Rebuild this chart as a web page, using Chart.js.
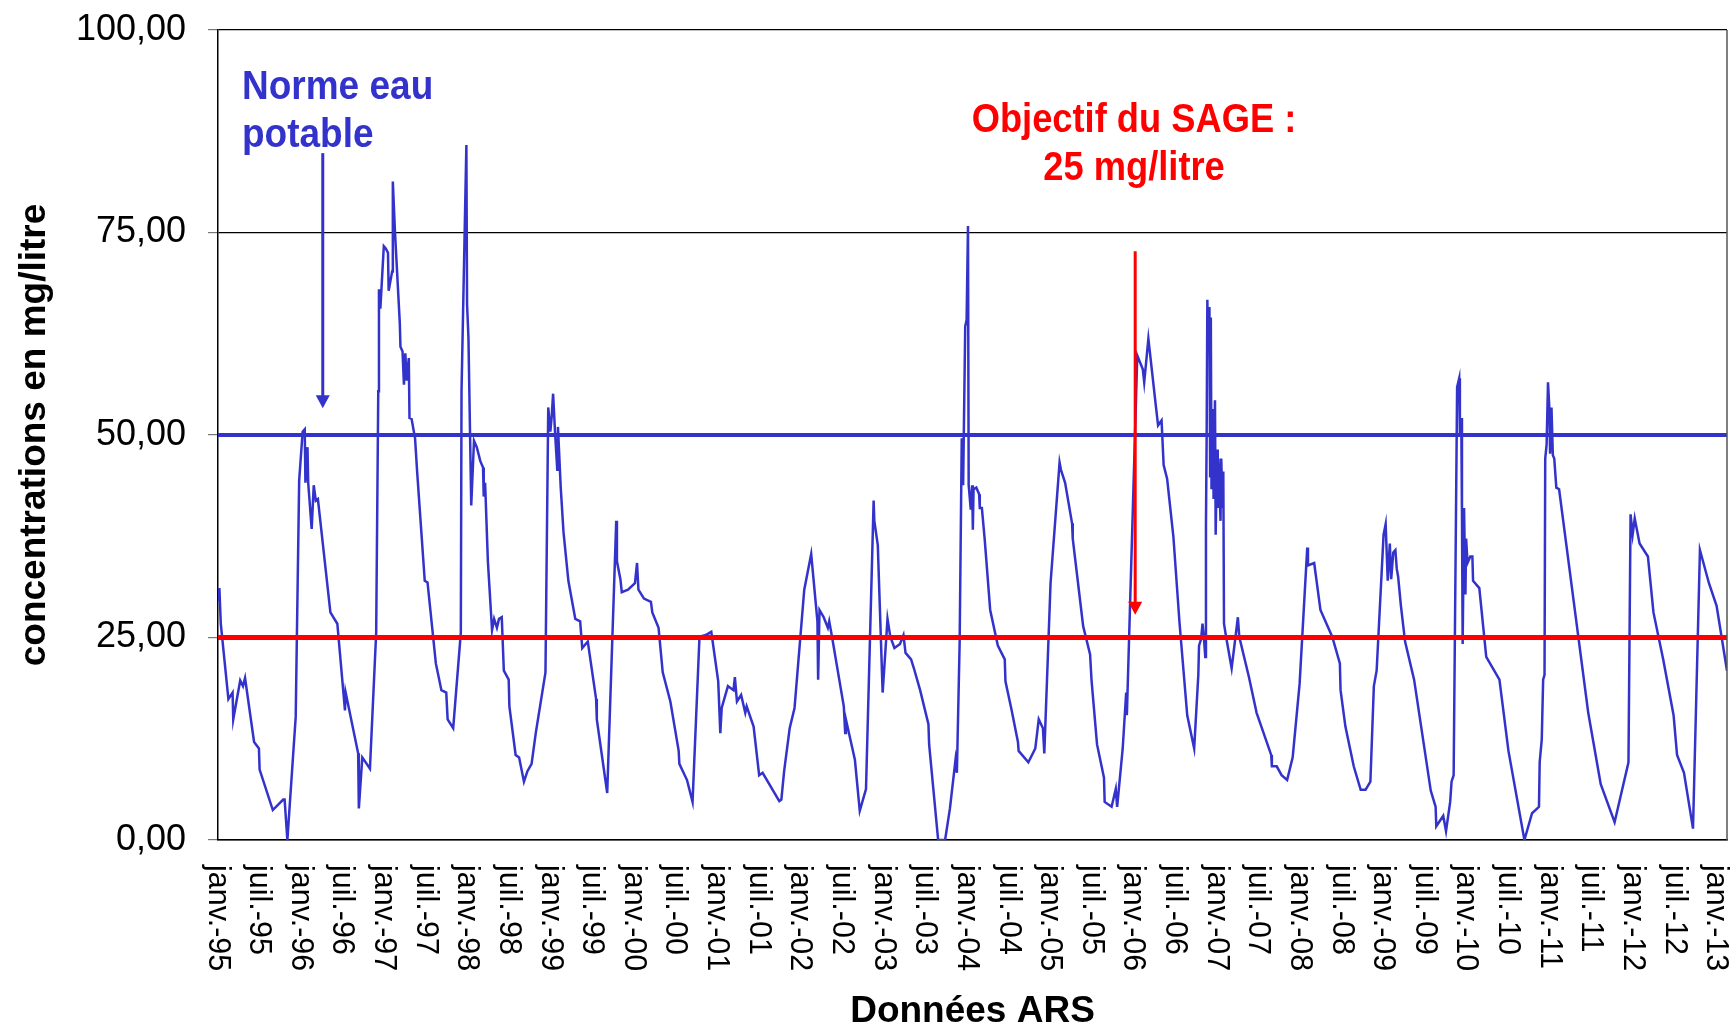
<!DOCTYPE html>
<html lang="fr">
<head>
    <meta charset="UTF-8">
    <title>Concentrations en nitrates - Données ARS</title>
    <script src="https://cdn.jsdelivr.net/npm/chart.js"></script>
    <style>
        html, body {
            margin: 0;
            padding: 0;
            background: #fff;
            overflow: hidden;
        }
        #wrap {
            width: 1736px;
            height: 1030px;
        }
        canvas {
            display: block;
        }
    </style>
</head>
<body>
<div id="wrap"><canvas id="chart" width="1736" height="1030"></canvas></div>
<script>
// x = months since janv.-95
const months = [
    0, 0.2, 0.4, 1.5, 2.1, 2.2, 3.2, 3.6, 3.9, 5.2, 5.9, 6.0, 7.9, 9.4, 9.6, 10.0,
    11.2, 11.7, 12.2, 12.5, 12.6, 12.9, 13.0, 13.5, 13.8, 14.1, 14.4, 16.2, 17.2, 18.3, 18.4,
    20.2, 20.3, 20.8, 21.9, 22.8, 23.1, 23.2, 23.4, 23.9, 24.2, 24.5, 24.6, 25.1, 25.2, 25.5,
    26.2, 26.3, 26.6, 26.8, 27.0, 27.2, 27.5, 27.6, 27.9, 28.4, 28.7, 29.8, 30.2, 31.4, 32.2,
    32.9, 33.1, 33.9, 35.0, 35.1, 35.8, 35.9, 36.1, 36.5, 36.9, 37.3, 37.8, 38.2, 38.3, 38.5,
    38.9, 39.5, 39.8, 40.2, 40.5, 40.9, 41.2, 41.9, 42.0, 42.9, 43.4, 44.1, 44.6, 45.2, 45.8,
    47.2, 47.6, 47.9, 48.1, 48.3, 48.6, 48.9, 49.0, 49.4, 49.8, 50.5, 51.5, 52.2, 52.5, 53.3,
    54.5, 54.6, 56.1, 57.4, 57.5, 58.0, 58.2, 59.1, 60.1, 60.4, 60.6, 61.4, 62.4, 62.6, 63.5,
    64.1, 65.2, 66.4, 66.5, 67.6, 68.4, 69.4, 70.3, 71.1, 72.1, 72.4, 72.6, 73.5, 74.3, 74.5,
    74.8, 75.4, 76.0, 76.2, 77.2, 78.0, 78.5, 80.9, 81.2, 81.6, 82.4, 83.1, 84.5, 85.5, 86.4,
    86.5, 86.7, 87.3, 87.9, 88.1, 88.5, 90.2, 90.4, 90.5, 91.8, 92.5, 93.4, 94.5, 94.6, 95.1,
    95.8, 96.5, 96.9, 97.5, 98.3, 98.8, 99.1, 99.9, 100.3, 101.2, 102.4, 102.5, 103.8, 104.8,
    105.5, 106.3, 106.5, 106.9, 107.2, 107.4, 107.7, 107.9, 108.1, 108.2, 108.5, 108.7, 108.8,
    108.9, 109.3, 109.7, 109.8, 110.1, 110.5, 111.3, 112.4, 113.4, 113.5, 114.4, 115.3, 115.4,
    116.8, 117.8, 118.3, 118.9, 119.1, 120.0, 121.3, 121.5, 122.1, 123.1, 123.2, 124.7, 125.7,
    125.9, 126.7, 127.7, 127.8, 128.8, 129.4, 129.6, 130.4, 130.9, 131.0, 132.5, 133.3, 133.5,
    134.1, 135.2, 135.5, 136.0, 136.3, 136.8, 137.7, 138.6, 139.7, 140.7, 141.3, 141.4, 141.7,
    141.9, 142.1, 142.3, 142.4, 142.5, 142.6, 142.7, 142.9, 143.0, 143.1, 143.2, 143.4, 143.5,
    143.7, 143.8, 144.0, 144.1, 144.2, 144.5, 144.6, 144.8, 144.9, 145.0, 145.3, 146.1, 147.0,
    147.2, 148.6, 149.7, 151.8, 151.9, 152.6, 153.3, 154.1, 154.9, 155.9, 157.0, 157.1, 158.0,
    158.9, 160.6, 161.7, 161.8, 162.5, 163.7, 164.7, 165.4, 166.1, 166.6, 167.0, 168.0, 168.3,
    168.6, 168.9, 169.1, 169.4, 169.7, 169.9, 170.1, 170.5, 171.1, 172.4, 174.8, 175.5, 175.6,
    176.6, 177.0, 177.6, 177.8, 178.1, 178.6, 178.9, 179.0, 179.2, 179.3, 179.4, 179.6, 179.8,
    179.9, 180.1, 180.5, 180.8, 180.9, 181.8, 182.8, 184.7, 186.0, 188.3, 189.4, 190.4, 190.5,
    190.8, 191.0, 191.2, 191.3, 191.5, 191.7, 191.9, 192.0, 192.2, 192.4, 192.6, 192.9, 193.3,
    197.5, 199.3, 201.3, 203.3, 203.6, 203.9, 204.2, 204.9, 206.1, 206.9, 208.3, 209.8, 210.3,
    211.3, 212.6, 213.6, 214.9, 216.0, 217.5
];

// concentrations en mg/litre
const nitrates = [
    29.5, 31.1, 26.7, 17.4, 18.2, 14.9, 19.7, 19.0, 20.0, 12.1, 11.3, 8.7, 3.7, 5.0, 5.0, 0,
    15.2, 44.4, 50.4, 50.7, 44.1, 48.5, 44.1, 38.4, 43.8, 41.9, 42.1, 28.1, 26.7, 16.0, 18.2,
    10.7, 3.9, 10.2, 8.8, 25.6, 55.4, 68.0, 65.6, 73.3, 73.0, 72.5, 67.8, 70.2, 81.3, 75.2,
    63.9, 60.9, 60.3, 56.2, 60.1, 56.7, 59.5, 52.1, 52.0, 49.6, 45.5, 32.0, 31.8, 21.8, 18.5,
    18.2, 14.9, 13.8, 25.6, 55.4, 85.8, 66.1, 62.0, 41.3, 49.3, 48.5, 46.8, 46.0, 42.4, 44.1,
    34.4, 25.9, 27.3, 26.2, 27.3, 27.5, 20.9, 19.8, 16.5, 10.5, 10.2, 7.2, 8.5, 9.4, 13.2,
    20.7, 53.4, 50.4, 52.3, 55.1, 50.0, 45.7, 51.0, 43.5, 38.0, 32.0, 27.3, 27.0, 23.7, 24.5,
    17.4, 14.9, 5.8, 39.4, 34.4, 32.2, 30.6, 30.9, 31.7, 34.2, 30.9, 29.8, 29.4, 28.1, 26.2,
    20.7, 17.1, 11.0, 9.4, 7.4, 4.7, 25.1, 25.3, 25.7, 19.6, 13.2, 16.3, 19.0, 18.5, 20.1,
    17.1, 17.9, 15.7, 16.5, 14.0, 8.0, 8.3, 4.8, 5.0, 8.5, 13.8, 16.3, 30.9, 35.3, 27.0,
    19.8, 28.4, 27.5, 26.2, 27.0, 25.1, 16.5, 13.2, 14.9, 9.9, 3.6, 6.3, 41.9, 39.4, 36.4,
    18.2, 27.3, 25.1, 23.7, 24.2, 25.3, 23.1, 22.3, 21.2, 18.5, 14.3, 11.8, 0, 0,
    3.9, 9.9, 8.3, 24.5, 49.6, 43.8, 63.4, 64.2, 75.8, 43.8, 40.8, 43.8, 38.3,
    43.3, 43.5, 42.7, 41.0, 41.0, 37.2, 28.4, 24.0, 22.3, 19.6, 16.0, 12.1, 11.0,
    9.6, 11.3, 14.9, 13.8, 10.7, 31.7, 46.6, 45.7, 44.1, 39.1, 37.2, 26.4, 22.9,
    19.8, 11.8, 7.7, 4.7, 4.1, 6.3, 4.1, 11.3, 18.2, 15.4, 59.8, 58.1, 56.5,
    61.9, 53.4, 51.2, 51.8, 46.3, 44.6, 37.5, 26.7, 15.4, 11.3, 20.4, 24.0, 24.8,
    26.7, 25.0, 22.6, 38.8, 49.9, 66.7, 60.3, 65.8, 44.9, 64.5, 43.3, 53.2, 42.1,
    54.3, 37.7, 48.2, 41.0, 47.1, 39.4, 47.1, 41.0, 45.5, 26.7, 25.1, 21.2, 27.5,
    25.1, 20.1, 15.7, 10.5, 9.1, 9.1, 8.0, 7.4, 10.2, 19.3, 36.1, 33.9, 34.2,
    28.4, 25.1, 21.8, 18.5, 14.0, 9.1, 6.2, 6.2, 7.2, 19.0, 20.9, 37.7, 39.0,
    32.0, 36.6, 32.2, 35.5, 35.8, 33.5, 32.5, 28.9, 24.5, 19.8, 6.1, 4.1, 1.7,
    3.0, 1.1, 4.7, 7.2, 8.0, 55.9, 57.0, 50.0, 52.1, 40.2, 24.2, 41.0, 30.3,
    37.2, 34.2, 35.0, 35.0, 32.0, 31.1, 22.6, 19.8, 11.0, 0, 3.3, 4.1, 9.6,
    12.4, 19.8, 20.4, 47.1, 48.8, 56.5, 53.2, 47.7, 53.4, 47.5, 47.1, 43.5, 43.3,
    15.7, 6.9, 2.2, 9.6, 40.2, 37.7, 39.7, 36.6, 35.0, 28.1, 22.3, 15.4, 10.5,
    8.3, 1.4, 35.8, 31.7, 28.9, 20.9
];

// reference lines
const limitMonths = [0, 217.5];
const normeEau = [50, 50];
const objectifSage = [25, 25];

const tickLabels = [
    'janv.-95', 'juil.-95', 'janv.-96', 'juil.-96', 'janv.-97', 'juil.-97', 'janv.-98', 'juil.-98',
    'janv.-99', 'juil.-99', 'janv.-00', 'juil.-00', 'janv.-01', 'juil.-01', 'janv.-02', 'juil.-02',
    'janv.-03', 'juil.-03', 'janv.-04', 'juil.-04', 'janv.-05', 'juil.-05', 'janv.-06', 'juil.-06',
    'janv.-07', 'juil.-07', 'janv.-08', 'juil.-08', 'janv.-09', 'juil.-09', 'janv.-10', 'juil.-10',
    'janv.-11', 'juil.-11', 'janv.-12', 'juil.-12', 'janv.-13'
];

const BLUE = '#3333cc';
const RED = '#ff0000';
const FONT = '"Liberation Sans", Arial, sans-serif';

function toPoints(xs, ys) {
    return xs.map((x, i) => ({ x: x, y: ys[i] }));
}

// x labels read top-to-bottom in the original, so they are drawn here
const xLabelsPlugin = {
    id: 'xLabels',
    afterDraw(chart) {
        const ctx = chart.ctx;
        const xScale = chart.scales.x;
        const top = chart.chartArea.bottom + 25;
        ctx.save();
        ctx.fillStyle = '#000';
        ctx.font = '30.5px ' + FONT;
        ctx.textAlign = 'left';
        ctx.textBaseline = 'middle';
        xScale.ticks.forEach((t, i) => {
            const label = tickLabels[i];
            if (!label) return;
            const x = xScale.getPixelForValue(t.value) - 1;
            ctx.save();
            ctx.translate(x, top);
            ctx.rotate(Math.PI / 2);
            ctx.fillText(label, 0, 0);
            ctx.restore();
        });
        ctx.restore();
    }
};

function arrow(ctx, x, y1, y2, color) {
    ctx.strokeStyle = color;
    ctx.fillStyle = color;
    ctx.lineWidth = 3;
    ctx.beginPath();
    ctx.moveTo(x, y1);
    ctx.lineTo(x, y2 - 10);
    ctx.stroke();
    ctx.beginPath();
    ctx.moveTo(x - 7, y2 - 13);
    ctx.lineTo(x + 7, y2 - 13);
    ctx.lineTo(x, y2);
    ctx.closePath();
    ctx.fill();
}

// taller bold text, as in the original
function noteText(ctx, text, x, y) {
    ctx.save();
    ctx.translate(x, y);
    ctx.scale(1, 1.1);
    ctx.fillText(text, 0, 0);
    ctx.restore();
}

const notesPlugin = {
    id: 'notes',
    afterDraw(chart) {
        const ctx = chart.ctx;
        const xs = chart.scales.x;
        const ys = chart.scales.y;
        const area = chart.chartArea;
        ctx.save();

        // right border of the plot
        ctx.strokeStyle = '#555';
        ctx.lineWidth = 1.5;
        ctx.beginPath();
        ctx.moveTo(area.right, area.top);
        ctx.lineTo(area.right, area.bottom);
        ctx.stroke();

        ctx.textBaseline = 'middle';

        ctx.font = 'bold 37px ' + FONT;
        ctx.fillStyle = BLUE;
        ctx.textAlign = 'left';
        noteText(ctx, 'Norme eau', 242, 88);
        noteText(ctx, 'potable', 242, 136);
        arrow(ctx, xs.getPixelForValue(15.1), ys.getPixelForValue(84.8), ys.getPixelForValue(53.3), BLUE);

        ctx.font = 'bold 36.3px ' + FONT;
        ctx.fillStyle = RED;
        ctx.textAlign = 'center';
        noteText(ctx, 'Objectif du SAGE :', 1134, 121);
        noteText(ctx, '25 mg/litre', 1134, 169);
        arrow(ctx, xs.getPixelForValue(132.2), ys.getPixelForValue(72.7), ys.getPixelForValue(27.8), RED);

        ctx.restore();
    }
};

new Chart(document.getElementById('chart'), {
    type: 'line',
    data: {
        datasets: [
            {
                label: 'Objectif du SAGE',
                data: toPoints(limitMonths, objectifSage),
                borderColor: RED,
                borderWidth: 5,
                pointRadius: 0,
                order: 0
            },
            {
                label: 'Norme eau potable',
                data: toPoints(limitMonths, normeEau),
                borderColor: BLUE,
                borderWidth: 4,
                pointRadius: 0,
                order: 1
            },
            {
                label: 'Nitrates',
                data: toPoints(months, nitrates),
                borderColor: BLUE,
                borderWidth: 2.5,
                pointRadius: 0,
                tension: 0,
                order: 2
            }
        ]
    },
    options: {
        responsive: false,
        animation: false,
        devicePixelRatio: 1,
        layout: { padding: { top: 30, right: 9, left: 0, bottom: 0 } },
        plugins: {
            legend: { display: false },
            tooltip: { enabled: false }
        },
        scales: {
            x: {
                type: 'linear',
                min: 0,
                max: 217.5,
                ticks: { display: false, stepSize: 6, includeBounds: false },
                grid: { display: false },
                border: { display: true, color: '#000', width: 1.5 },
                title: {
                    display: true,
                    text: 'Données ARS',
                    color: '#000',
                    font: { family: FONT, size: 37, weight: 'bold', lineHeight: 1 },
                    padding: { top: 0, bottom: 0 }
                },
                afterFit(scale) {
                    scale.height = 190;
                    scale.paddingLeft = 0;
                    scale.paddingRight = 0;
                }
            },
            y: {
                min: 0,
                max: 100,
                ticks: {
                    stepSize: 25,
                    color: '#000',
                    padding: 22,
                    font: { family: FONT, size: 36 },
                    callback: v => v.toFixed(2).replace('.', ',')
                },
                grid: {
                    color: '#000',
                    lineWidth: 1.2,
                    tickLength: 10,
                    tickColor: '#777'
                },
                border: { display: true, color: '#000', width: 1.5 },
                title: {
                    display: true,
                    text: 'concentrations en mg/litre',
                    color: '#000',
                    font: { family: FONT, size: 37, weight: 'bold', lineHeight: 1 },
                    padding: { top: 16, bottom: 0 }
                },
                afterFit(scale) {
                    scale.width = 218;
                    scale.paddingTop = 0;
                    scale.paddingBottom = 0;
                }
            }
        }
    },
    plugins: [xLabelsPlugin, notesPlugin]
});
</script>
</body>
</html>
